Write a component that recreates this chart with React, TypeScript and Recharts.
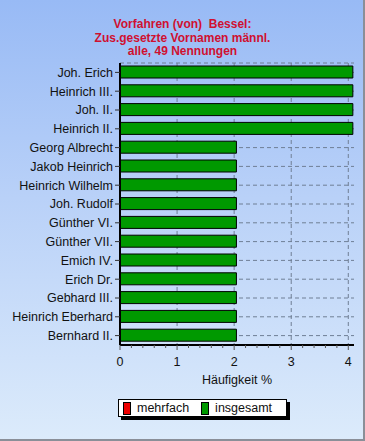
import React from "react";
import { BarChart, Bar, XAxis, YAxis, CartesianGrid } from "recharts";

const categories = [
  "Joh. Erich",
  "Heinrich III.",
  "Joh. II.",
  "Heinrich II.",
  "Georg Albrecht",
  "Jakob Heinrich",
  "Heinrich Wilhelm",
  "Joh. Rudolf",
  "Günther VI.",
  "Günther VII.",
  "Emich IV.",
  "Erich Dr.",
  "Gebhard III.",
  "Heinrich Eberhard",
  "Bernhard II.",
];
const insgesamt = [4.08, 4.08, 4.08, 4.08, 2.04, 2.04, 2.04, 2.04, 2.04, 2.04, 2.04, 2.04, 2.04, 2.04, 2.04];
const mehrfach = [0, 0, 0, 0, 0, 0, 0, 0, 0, 0, 0, 0, 0, 0, 0];
const xTicks = [0, 0.2, 0.4, 0.6, 0.8, 1, 1.2, 1.4, 1.6, 1.8, 2, 2.2, 2.4, 2.6, 2.8, 3, 3.2, 3.4, 3.6, 3.8, 4];
const gridValues = [1, 2, 3, 4];
const titleLines = ["Vorfahren (von)  Bessel:", "Zus.gesetzte Vornamen männl.", "alle, 49 Nennungen"];
const legendItems = [
  { name: "mehrfach", color: "#ee0000" },
  { name: "insgesamt", color: "#009900" },
];

const data = categories.map((name, i) => ({
  name,
  insgesamt: insgesamt[i],
  mehrfach: mehrfach[i],
}));

const FONT = "'Liberation Sans', Arial, sans-serif";

const XTick = (props: any) => {
  const { x, y, payload } = props;
  const v = payload.value as number;
  const major = Math.abs(v - Math.round(v)) < 1e-6;
  return (
    <g>
      <line x1={x} x2={x} y1={y} y2={y + (major ? 5 : 3)} stroke="#555" strokeWidth={1} />
      {major && (
        <text x={x} y={y + 21} textAnchor="middle" fontSize={12.5} fill="#111" fontFamily={FONT}>
          {Math.round(v)}
        </text>
      )}
    </g>
  );
};

export default function App() {
  return (
    <div
      style={{
        position: "absolute",
        left: 0,
        top: 0,
        width: 365,
        height: 441,
        background: "linear-gradient(180deg, #98baf5 0%, #b9d1f8 45%, #dcebfb 100%)",
        fontFamily: FONT,
        overflow: "hidden",
      }}
    >
      <div
        style={{
          position: "absolute",
          left: 0,
          width: 365,
          top: 18,
          textAlign: "center",
          color: "#d01030",
          fontWeight: "bold",
          fontSize: 12,
          lineHeight: "13.5px",
        }}
      >
        {titleLines.map((t, i) => (
          <div key={i} style={{ whiteSpace: "pre" }}>{t}</div>
        ))}
      </div>
      <BarChart
        width={365}
        height={441}
        data={data}
        layout="vertical"
        margin={{ top: 63, right: 11, left: 1, bottom: 51 }}
        barCategoryGap={3}
        style={{ position: "absolute", left: 0, top: 0 }}
      >
        <CartesianGrid
          stroke="#6f7f95"
          strokeDasharray="4 3"
          verticalValues={gridValues}
          fill="none"
        />
        <XAxis
          type="number"
          domain={[0, 4.1]}
          ticks={xTicks}
          interval={0}
          tick={<XTick />}
          tickLine={false}
          tickSize={0}
          tickMargin={0}
          height={45}
          axisLine={{ stroke: "#000", strokeWidth: 2 }}
          allowDataOverflow
          label={{ value: "Häufigkeit %", position: "insideBottom", offset: 6, fill: "#111", fontSize: 12.5 }}
        />
        <XAxis
          xAxisId="top"
          orientation="top"
          type="number"
          domain={[0, 4.1]}
          height={0}
          tick={false}
          tickLine={false}
          axisLine={{ stroke: "#000", strokeWidth: 1 }}
        />
        <YAxis
          type="category"
          dataKey="name"
          width={119}
          interval={0}
          tickSize={5}
          tickMargin={2}
          tickLine={{ stroke: "#333" }}
          axisLine={{ stroke: "#000", strokeWidth: 2 }}
          tick={{ fill: "#111", fontSize: 12.5 }}
        />
        <YAxis
          yAxisId="r"
          orientation="right"
          type="category"
          dataKey="name"
          width={0}
          tick={false}
          tickLine={false}
          axisLine={{ stroke: "#000", strokeWidth: 1 }}
        />
        <Bar dataKey="insgesamt" fill="#009900" stroke="#000" strokeWidth={1} barSize={12} isAnimationActive={false} />
        <Bar dataKey="mehrfach" yAxisId="r" fill="#ee0000" barSize={12} isAnimationActive={false} />
      </BarChart>
      <div
        style={{
          position: "absolute",
          left: 118,
          top: 399,
          width: 169,
          height: 18,
          boxSizing: "border-box",
          background: "#fff",
          border: "1px solid #000",
          boxShadow: "3px 3px 0 #000",
          display: "flex",
          alignItems: "center",
          fontSize: 12.5,
          color: "#111",
        }}
      >
        {legendItems.map((it, i) => (
          <div key={it.name} style={{ display: "flex", alignItems: "center", marginLeft: i === 0 ? 4 : 12 }}>
            <span
              style={{
                display: "inline-block",
                width: 6,
                height: 11,
                background: it.color,
                border: "1px solid #000",
                marginRight: 6,
              }}
            />
            <span>{it.name}</span>
          </div>
        ))}
      </div>
      <div
        style={{
          position: "absolute",
          left: 0,
          top: 0,
          width: 365,
          height: 441,
          boxSizing: "border-box",
          borderRight: "2px solid #8a8f98",
          borderBottom: "2px solid #8a8f98",
          pointerEvents: "none",
        }}
      />
    </div>
  );
}
